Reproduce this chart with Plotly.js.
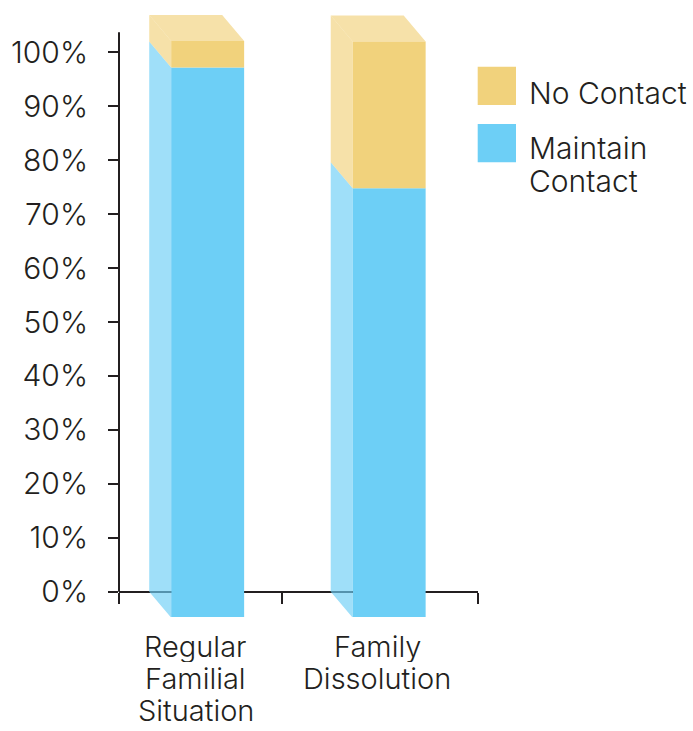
<!DOCTYPE html>
<html><head><meta charset="utf-8">
<script src="https://cdn.plot.ly/plotly-3.0.1.min.js"></script>
<style>html,body{margin:0;padding:0;background:#fff;}#chart{width:693px;height:731px;}</style>
</head><body><div id="chart"></div>
<script>
// ---- data ----
const categories = ['Regular<br>Familial<br>Situation', 'Family<br>Dissolution'];
const categoryPos = [0, 1];
const seriesNames = ['Maintain<br>Contact', 'No Contact'];
const maintainContact = [102.0, 79.6];
const noContact = [4.9, 27.2];
const yTickVals = [0, 10, 20, 30, 40, 50, 60, 70, 80, 90, 100];
const yTickText = yTickVals.map(v => v + '%');

// ---- styling / geometry ----
const W = 693, H = 731;
const M = {l: 119, r: 215, t: 14, b: 114};
const PW = W - M.l - M.r, PH = H - M.t - M.b;
const X_RANGE = [-0.3675, 1.6105];
const Y_RANGE = [-4.69, 107.1];
const BAR_W = 0.402, DX = 0.121, DY = 4.82;
const INK = '#231f20';
const FONT = {family: 'Inter, Roboto, "Liberation Sans", sans-serif', size: 29, color: INK, weight: 300};
const TICK_FONT = Object.assign({}, FONT, {size: 30});
const LEGEND_FONT = Object.assign({}, FONT, {size: 30});
const frontColors = ['#6dcff6', '#f1d27c'];
const sideColors = ['rgba(109,207,246,0.66)', 'rgba(241,210,124,0.66)'];
const px2px = x => (x - M.l) / PW;          // pixel x -> paper x
const py2py = y => (M.t + PH - y) / PH;     // pixel y -> paper y

const series = [maintainContact, noContact];
const traces = [];
const bottoms = series.map(() => []);
let running = categoryPos.map(() => 0);
series.forEach((vals, s) => {
  vals.forEach((v, i) => { bottoms[s][i] = running[i]; running[i] += v; });
});

// side faces (left), per series
series.forEach((vals, s) => {
  const xs = [], ys = [];
  categoryPos.forEach((c, i) => {
    const xl = c - BAR_W / 2, b = bottoms[s][i], t = b + vals[i];
    xs.push(xl, xl, xl + DX, xl + DX, xl, null);
    ys.push(b, t, t - DY, b - DY, b, null);
  });
  traces.push({type: 'scatter', mode: 'lines', x: xs, y: ys, fill: 'toself',
    fillcolor: sideColors[s], line: {width: 0, color: 'rgba(0,0,0,0)'},
    hoverinfo: 'skip', showlegend: false});
});
// top faces
{
  const s = series.length - 1;
  const xs = [], ys = [];
  categoryPos.forEach((c, i) => {
    const xl = c - BAR_W / 2, T = running[i];
    xs.push(xl, xl + BAR_W, xl + BAR_W + DX, xl + DX, xl, null);
    ys.push(T, T, T - DY, T - DY, T, null);
  });
  traces.push({type: 'scatter', mode: 'lines', x: xs, y: ys, fill: 'toself',
    fillcolor: sideColors[s], line: {width: 0, color: 'rgba(0,0,0,0)'},
    hoverinfo: 'skip', showlegend: false});
}
// front faces
series.forEach((vals, s) => {
  traces.push({type: 'bar', name: seriesNames[s].replace('<br>', ' '),
    x: categoryPos.map(c => c + DX), y: vals, base: bottoms[s].map(b => b - DY),
    width: BAR_W, marker: {color: frontColors[s], line: {width: 0}},
    showlegend: false, hoverinfo: 'skip'});
});

// category labels (one annotation per line for tight line spacing)
const annotations = [];
const LINE_GAP = 32, LINE_BOX = 31;
categories.forEach((cat, i) => {
  cat.split('<br>').forEach((ln, k) => {
    annotations.push({text: ln, xref: 'x', x: categoryPos[i] + 0.055,
      yref: 'paper', y: py2py(630 + k * LINE_GAP), xanchor: 'center', yanchor: 'top',
      height: LINE_BOX, valign: 'middle', borderpad: 0,
      showarrow: false, font: FONT});
  });
});
// legend (manual, large swatches)
const shapes = [{type: 'line', xref: 'paper', x0: 0, x1: 0, yref: 'y', y0: 0, y1: 103.7,
  line: {color: INK, width: 2}}];
const legendOrder = [1, 0];
const legendRows = [[66.7, 75.5], [124, 131.5]];
legendOrder.forEach((s, r) => {
  const top = legendRows[r][0];
  shapes.push({type: 'rect', xref: 'paper', yref: 'paper',
    x0: px2px(477.7), x1: px2px(516), y0: py2py(top), y1: py2py(top + 38.3),
    fillcolor: frontColors[s], line: {width: 0}});
  seriesNames[s].split('<br>').forEach((ln, k) => {
    annotations.push({text: ln, xref: 'paper', x: px2px(528), xanchor: 'left',
      yref: 'paper', y: py2py(legendRows[r][1] + k * LINE_GAP), yanchor: 'top',
      height: LINE_BOX, valign: 'middle', borderpad: 0,
      showarrow: false, font: LEGEND_FONT});
  });
});

const layout = {
  width: W, height: H, margin: M, paper_bgcolor: '#fff', plot_bgcolor: '#fff',
  barmode: 'overlay', showlegend: false, font: FONT,
  xaxis: {range: X_RANGE, anchor: 'free', position: py2py(591.7), showline: true,
    linewidth: 2, linecolor: INK, ticks: 'outside', ticklen: 11, tickwidth: 2, tickcolor: INK,
    tickvals: [-0.3665, 0.53, 1.6095], showticklabels: false, showgrid: false,
    zeroline: false, layer: 'below traces', fixedrange: true},
  yaxis: {range: Y_RANGE, tickvals: yTickVals, ticktext: yTickText, ticks: 'outside',
    ticklen: 10, tickwidth: 2, tickcolor: INK, showline: false, showgrid: false,
    zeroline: false, tickfont: TICK_FONT, ticklabelstandoff: 14, fixedrange: true},
  shapes: shapes, annotations: annotations
};
Plotly.newPlot('chart', traces, layout, {displayModeBar: false, staticPlot: true});
</script></body></html>
